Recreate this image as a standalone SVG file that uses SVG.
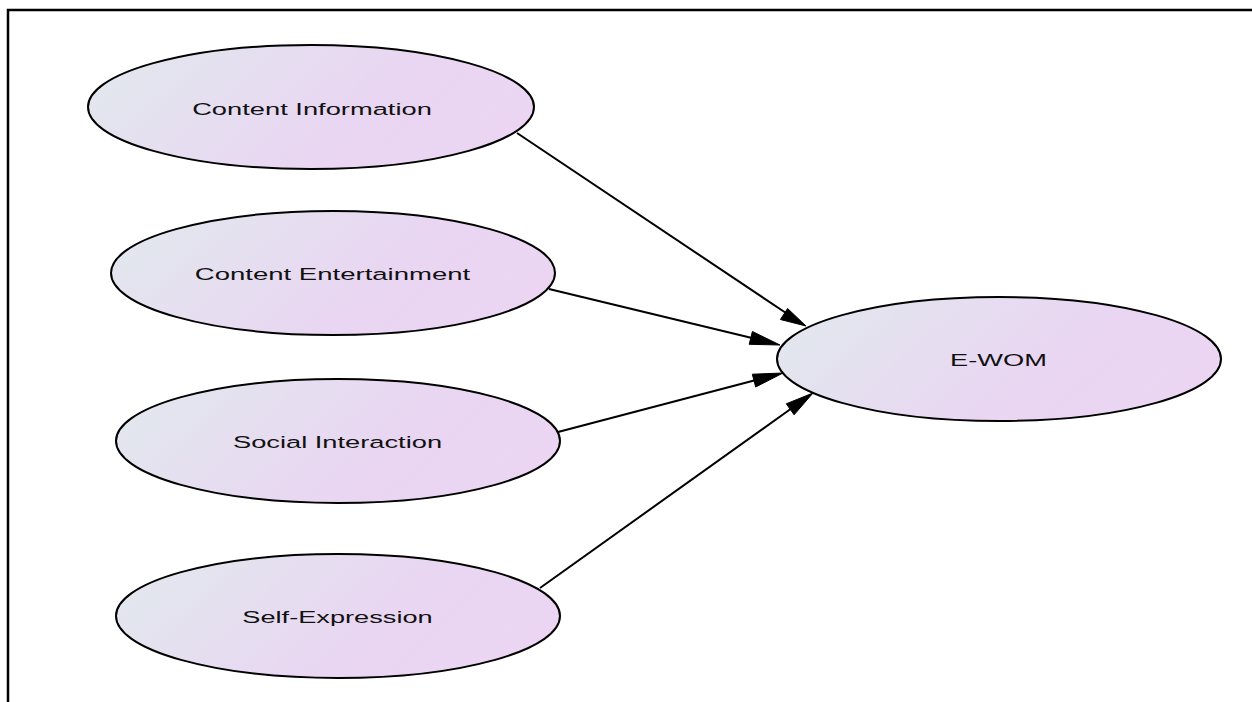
<svg xmlns="http://www.w3.org/2000/svg" width="1252" height="702" viewBox="0 0 1252 702">
  <style>
    .node ellipse { fill: url(#g); stroke: #000; stroke-width: 2; }
    .node text { font-family: "Liberation Sans", Arial, sans-serif; font-size: 16.5px; fill: #111; text-anchor: middle; }
    .edge line { stroke: #000; stroke-width: 2; }
    .edge polygon { fill: #000; stroke: #000; stroke-width: 1; }
    .frame { stroke: #000; stroke-width: 2.5; fill: none; }
  </style>
  <defs>
    <linearGradient id="g" x1="0" y1="0.35" x2="1" y2="0.65">
      <stop offset="0" stop-color="#e2e7ee"/>
      <stop offset="0.6" stop-color="#e9d6f2"/>
      <stop offset="1" stop-color="#ebd5f3"/>
    </linearGradient>
  </defs>
  <rect width="1252" height="702" fill="#fff"/>
  <polyline class="frame" points="8,702 8,10 1252,10"/>

  <g id="connectors" class="edge">
    <line x1="517" y1="133" x2="786" y2="313"/>
    <polygon points="787.6,308.5 780.4,319.5 806,326"/>
    <line x1="549" y1="289" x2="752" y2="338"/>
    <polygon points="752.4,331.5 749.2,344.3 780,345"/>
    <line x1="558" y1="432" x2="756" y2="380"/>
    <polygon points="752.3,374.2 755.7,387 783,373"/>
    <line x1="540" y1="588" x2="792" y2="408"/>
    <polygon points="786.3,403.8 794.1,414.8 813,393"/>
  </g>

  <g id="content-information" class="node">
    <ellipse cx="311" cy="107" rx="223" ry="62"/>
    <text transform="translate(312,115) scale(1.7,1)" textLength="141" lengthAdjust="spacingAndGlyphs">Content Information</text>
  </g>
  <g id="content-entertainment" class="node">
    <ellipse cx="333" cy="273" rx="222" ry="62"/>
    <text transform="translate(332.5,280) scale(1.7,1)" textLength="162" lengthAdjust="spacingAndGlyphs">Content Entertainment</text>
  </g>
  <g id="social-interaction" class="node">
    <ellipse cx="338" cy="441" rx="222" ry="62"/>
    <text transform="translate(337.5,448) scale(1.7,1)" textLength="123" lengthAdjust="spacingAndGlyphs">Social Interaction</text>
  </g>
  <g id="self-expression" class="node">
    <ellipse cx="338" cy="616" rx="222" ry="62"/>
    <text transform="translate(337.5,623) scale(1.7,1)" textLength="112" lengthAdjust="spacingAndGlyphs">Self-Expression</text>
  </g>
  <g id="e-wom" class="node">
    <ellipse cx="999" cy="359" rx="222" ry="62"/>
    <text transform="translate(998.5,366) scale(1.7,1)" textLength="57" lengthAdjust="spacingAndGlyphs">E-WOM</text>
  </g>
</svg>
